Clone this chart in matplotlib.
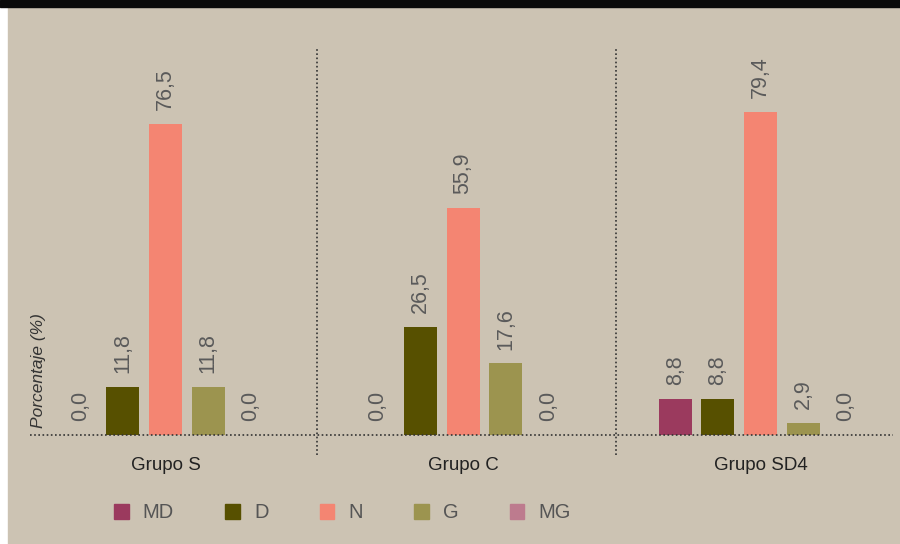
import matplotlib.pyplot as plt
from matplotlib.patches import Rectangle
import numpy as np

plt.rcParams['font.family'] = ['Liberation Sans', 'DejaVu Sans']

groups = ['Grupo S', 'Grupo C', 'Grupo SD4']
series = ['MD', 'D', 'N', 'G', 'MG']
values = {
    'MD': [0.0, 0.0, 8.8],
    'D': [11.8, 26.5, 8.8],
    'N': [76.5, 55.9, 79.4],
    'G': [11.8, 17.6, 2.9],
    'MG': [0.0, 0.0, 0.0],
}
colors = {'MD': '#9B3A5E', 'D': '#575000', 'N': '#F48572', 'G': '#9C944F', 'MG': '#BD7B8E'}

bg = '#CCC3B3'
fig = plt.figure(figsize=(9, 5.44), dpi=100)
fig.patch.set_facecolor('white')
fig.patches.append(Rectangle((8/900, 0), 1, 1, transform=fig.transFigure, color=bg, zorder=-2))
fig.patches.append(Rectangle((0, 537/544), 1, 7/544, transform=fig.transFigure, color='#0a0a0a', zorder=-1))

ax = fig.add_axes([30/900, (544-455)/544, 863/900, 407/544])
ax.set_facecolor('none')
for s in ax.spines.values():
    s.set_visible(False)
ax.set_xticks([])
ax.set_yticks([])

x = np.arange(len(groups))
step = 0.1435
width = 0.111
for i, name in enumerate(series):
    pos = x + (i - 2) * step
    vals = values[name]
    ax.bar(pos, vals, width, color=colors[name], zorder=2)
    for p, v in zip(pos, vals):
        ax.annotate(f'{v:.1f}'.replace('.', ','), (p, v), xytext=(0, 10), textcoords='offset points',
                    rotation=90, ha='center', va='bottom', fontsize=15.5, color='#5a5a5a')

ax.set_xlim(-0.4555, 2.445)
ax.set_ylim(-4.9, 95.1)
ax.axhline(0, color='#333333', linestyle=(0, (1, 1.5)), linewidth=1.2, zorder=3)
for d in [0.508, 1.515]:
    ax.axvline(d, color='#333333', linestyle=(0, (1, 1.5)), linewidth=1.2)

for xi, g in zip(x, groups):
    ax.text(xi, -5.4, g, ha='center', va='top', fontsize=13.5, color='#222222')

fig.text(38/900, (544-428)/544, 'Porcentaje (%)', rotation=90, ha='center', va='bottom',
         fontsize=12.5, style='italic', color='#333333')

handles = [Rectangle((0, 0), 1, 1, color=colors[n]) for n in series]
leg = fig.legend(handles, series, loc='center left', bbox_to_anchor=(96/900, (544-513)/544),
                 ncol=5, frameon=False, fontsize=14.5, handlelength=0.72, handleheight=0.72,
                 handletextpad=0.7, columnspacing=2.55, labelcolor='#555555')

fig.savefig('out.png', dpi=100, facecolor=fig.get_facecolor())
